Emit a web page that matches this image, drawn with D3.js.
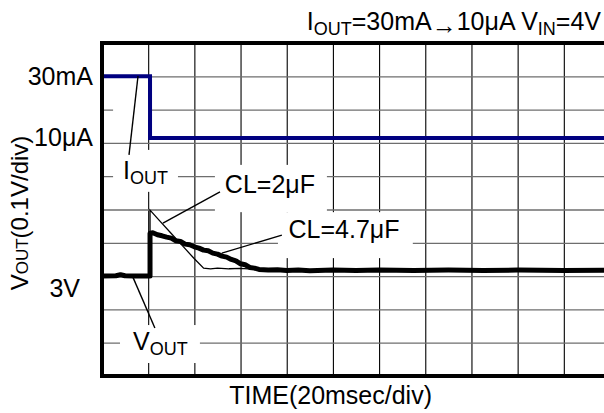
<!DOCTYPE html>
<html>
<head>
<meta charset="utf-8">
<script src="https://cdn.jsdelivr.net/npm/d3@7"></script>
<style>
html,body{margin:0;padding:0;background:#fff;}
svg{display:block;font-family:"Liberation Sans",Arial,Helvetica,sans-serif;}
</style>
</head>
<body>
<svg id="chart" width="604" height="413"></svg>
<script>
// ---------- data ----------
const timeTicks = [0, 20, 40, 60, 80, 100, 120, 140, 160, 180, 200, 220]; // ms (20 ms/div)
const voltTicks = [2.7, 2.8, 2.9, 3.0, 3.1, 3.2, 3.3, 3.4, 3.5, 3.6, 3.7]; // V (0.1 V/div)

const ioutTime = [0, 20.8, 20.8, 220];
const ioutVal  = [30e-3, 30e-3, 10e-6, 10e-6]; // A

const cl2Time = [0, 20.8, 20.8, 25, 30, 35, 40, 44, 47, 50, 55, 60, 70, 90, 120, 160, 220];
const cl2Volt = [3.0, 3.0, 3.198, 3.166, 3.128, 3.090, 3.052, 3.024, 3.022, 3.024, 3.022, 3.023, 3.019, 3.018, 3.018, 3.018, 3.018];

const cl47Time = [0, 6, 8, 10, 14, 20.8, 20.8, 22, 24, 26, 28, 30, 32, 34, 36, 38, 40, 42, 44, 46, 48, 50, 52, 54, 56, 58, 60, 62, 64, 66, 68, 72, 76, 80, 85, 90, 100, 110, 120, 135, 150, 165, 180, 200, 220];
const cl47Volt = [3.0, 3.001, 3.004, 3.001, 3.0, 3.0, 3.129, 3.130, 3.124, 3.121, 3.117, 3.114, 3.106, 3.104, 3.096, 3.094, 3.088, 3.084, 3.078, 3.076, 3.069, 3.066, 3.060, 3.057, 3.050, 3.046, 3.037, 3.034, 3.026, 3.024, 3.020, 3.018, 3.019, 3.017, 3.018, 3.016, 3.018, 3.017, 3.018, 3.017, 3.018, 3.017, 3.018, 3.017, 3.018];

const leftLabels = ["30mA", "10\u03bcA", "3V"];
const ioutLevels = [30e-3, 10e-6];
const voutLevel = 3.0;

// ---------- layout ----------
const svg = d3.select("#chart");
const plot = {left: 102, top: 43, bottom: 376, right: 610};

const x = d3.scaleLinear().domain([0, 220]).range([plot.left, plot.right]);
const y = d3.scaleLinear().domain([2.7, 3.7]).range([plot.bottom, plot.top]);
// current trace drawn on its own log scale, mapped onto the grid
const yI = d3.scaleLog().domain([10e-6, 30e-3]).range([y(3.415), y(3.6)]);

svg.append("defs").append("clipPath").attr("id", "clip")
  .append("rect").attr("x", plot.left).attr("y", plot.top - 3)
  .attr("width", 604 - plot.left).attr("height", plot.bottom - plot.top + 6);

const g = svg.append("g").attr("clip-path", "url(#clip)");

// grid: vertical (black) via axis
g.append("g").attr("transform", `translate(0,${plot.bottom})`)
  .call(d3.axisTop(x).tickValues(timeTicks.slice(1)).tickSize(plot.bottom - plot.top).tickFormat(""))
  .call(a => a.select(".domain").remove())
  .call(a => a.selectAll("line").attr("stroke", "#000").attr("stroke-width", 1.1));
// grid: horizontal (grey)
g.append("g").attr("transform", `translate(${plot.left},0)`)
  .call(d3.axisRight(y).tickValues(voltTicks.slice(1, -1)).tickSize(604 - plot.left).tickFormat(""))
  .call(a => a.select(".domain").remove())
  .call(a => a.selectAll("line").attr("stroke", "#6e6e6e").attr("stroke-width", 1.3));

// white label boxes (in data coords)
const boxes = [
  {t0: 4.8,  t1: 32.9,  v0: 3.253, v1: 3.379}, // IOUT
  {t0: 4.8,  t1: 20.2,  v0: 3.47,  v1: 3.53},  // gap near IOUT leader
  {t0: 48.9, t1: 97.4,  v0: 3.192, v1: 3.334}, // CL=2uF
  {t0: 76.2, t1: 134.6, v0: 3.054, v1: 3.192}, // CL=4.7uF
  {t0: 7.8,  t1: 42.4,  v0: 2.739, v1: 2.853}  // VOUT
];
g.selectAll("rect.box").data(boxes).join("rect").attr("class", "box")
  .attr("x", d => x(d.t0)).attr("y", d => y(d.v1))
  .attr("width", d => x(d.t1) - x(d.t0)).attr("height", d => y(d.v0) - y(d.v1))
  .attr("fill", "#fff");

// traces
const lineV = d3.line().x(d => x(d[0])).y(d => y(d[1]));
const lineI = d3.line().x(d => x(d[0])).y(d => yI(d[1]));

g.append("path").datum(d3.zip(ioutTime, ioutVal)).attr("d", lineI)
  .attr("fill", "none").attr("stroke", "#000080").attr("stroke-width", 4).attr("stroke-linejoin", "miter");

g.append("path").datum(d3.zip(cl2Time, cl2Volt)).attr("d", lineV)
  .attr("fill", "none").attr("stroke", "#000").attr("stroke-width", 1.3);

g.append("path").datum(d3.zip(cl47Time, cl47Volt)).attr("d", lineV)
  .attr("fill", "none").attr("stroke", "#000").attr("stroke-width", 5).attr("stroke-linejoin", "round");

// leader lines (data coords)
const leaders = [
  [[11.7, 3.364], [15.6, 3.601]],
  [[22.9, 2.844], [13.0, 3.003]],
  [[51.1, 3.253], [26.4, 3.159]],
  [[77.9, 3.123], [51.9, 3.069]]
];
g.selectAll("line.leader").data(leaders).join("line").attr("class", "leader")
  .attr("x1", d => x(d[0][0])).attr("y1", d => y(d[0][1]))
  .attr("x2", d => x(d[1][0])).attr("y2", d => y(d[1][1]))
  .attr("stroke", "#000").attr("stroke-width", 1.4);

// frame (left, top, bottom)
svg.append("path")
  .attr("d", `M604,${plot.top}H${plot.left}V${plot.bottom}H604`)
  .attr("fill", "none").attr("stroke", "#000").attr("stroke-width", 4);

// annotation texts
const fs = 25;
const sfs = 18;
function subText(sel, main, sub, opts) {
  const t = sel.append("text").attr("x", opts.x).attr("y", opts.y)
    .attr("font-size", fs).attr("fill", "#000");
  t.append("tspan").text(main);
  t.append("tspan").attr("font-size", sfs).attr("dy", 5).text(sub);
  return t;
}
subText(svg, "I", "OUT", {x: x(9.1), y: y(3.292)});
subText(svg, "V", "OUT", {x: x(13.4), y: y(2.778)});
svg.append("text").attr("x", x(53.2)).attr("y", y(3.25)).attr("font-size", fs).text("CL=2\u03bcF");
svg.append("text").attr("x", x(80.8)).attr("y", y(3.114)).attr("font-size", fs).text("CL=4.7\u03bcF");

// left level labels
const leftPos = [yI(ioutLevels[0]), yI(ioutLevels[1]) - 1, y(voutLevel) + 12];
svg.selectAll("text.lvl").data(leftLabels).join("text").attr("class", "lvl")
  .attr("x", (d, i) => i === 2 ? 80 : 93).attr("y", (d, i) => leftPos[i])
  .attr("dy", "0.35em").attr("text-anchor", "end").attr("font-size", fs).text(d => d);

// title
const title = svg.append("text").attr("x", 601).attr("y", 30).attr("text-anchor", "end").attr("font-size", fs);
title.append("tspan").text("I");
title.append("tspan").attr("font-size", sfs).attr("dy", 5).text("OUT");
title.append("tspan").attr("dy", -5).text("=30mA");
title.append("tspan").attr("dy", 4).text("\u2192");
title.append("tspan").attr("dy", -4).text("10\u03bcA V");
title.append("tspan").attr("font-size", sfs).attr("dy", 5).text("IN");
title.append("tspan").attr("dy", -5).text("=4V");

// x axis title
svg.append("text").attr("x", x(99)).attr("y", 404).attr("text-anchor", "middle")
  .attr("font-size", fs).text("TIME(20msec/div)");

// y axis title (rotated)
const yt = svg.append("text").attr("transform", "translate(28,213) rotate(-90)")
  .attr("text-anchor", "middle").attr("font-size", 24);
yt.append("tspan").text("V");
yt.append("tspan").attr("font-size", 17).text("OUT");
yt.append("tspan").text("(0.1V/div)");
</script>
</body>
</html>
